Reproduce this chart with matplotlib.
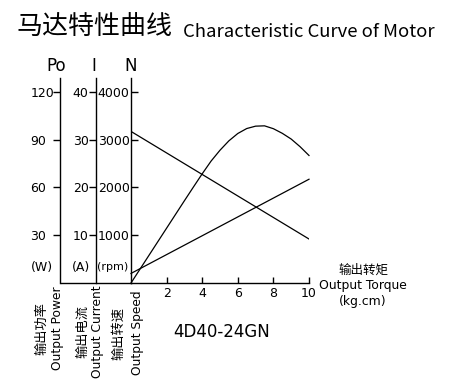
import matplotlib
matplotlib.use("Agg")
import matplotlib.pyplot as plt
from matplotlib.lines import Line2D

plt.rcParams['font.family'] = 'DejaVu Sans'
CJK = ['Noto Sans CJK SC', 'DejaVu Sans']

# data
torque = [0, 10]
speed = [3170, 920]          # rpm
current = [2.0, 21.7]        # A
torque_p = [0, 1, 2, 3, 3.5, 4, 4.5, 5, 5.5, 6, 6.5, 7, 7.5, 8, 8.5, 9, 9.5, 10]
power = [0, 17.2, 34.4, 51.6, 60.1, 68.5, 76.5, 83.3, 89.2, 93.8, 96.9, 98.4, 98.6,
         96.8, 93.9, 90.3, 85.5, 80]

x_ticks = [2, 4, 6, 8, 10]
n_ticks = [1000, 2000, 3000, 4000]
i_ticks = [10, 20, 30, 40]
p_ticks = [30, 60, 90, 120]

W, H = 450, 391
fig = plt.figure(figsize=(4.5, 3.91), dpi=100)
ax = fig.add_axes([131 / W, 1 - 283 / H, 178 / W, 205 / H])

ytop = 4287
ax.set_xlim(0, 10)
ax.set_ylim(0, ytop)

lw = 1.0
for s in ['top', 'right']:
    ax.spines[s].set_visible(False)
ax.spines['left'].set_linewidth(lw)
ax.spines['bottom'].set_linewidth(lw)

ax.set_xticks(x_ticks)
ax.set_yticks(n_ticks)
ax.tick_params(axis='x', direction='in', length=4.5, width=lw, labelsize=9, pad=3)
ax.tick_params(axis='y', direction='in', length=5, width=lw, labelsize=9, pad=1)

ax.plot(torque, speed, color='black', lw=0.9)

ax_i = ax.twinx()
ax_p = ax.twinx()
for a, off, top, ticks, pad in [(ax_i, 25.5, ytop / 100, i_ticks, 11.5),
                                 (ax_p, 51, ytop / 100 * 3, p_ticks, 16.5)]:
    a.set_ylim(0, top)
    for s in ['top', 'right', 'bottom']:
        a.spines[s].set_visible(False)
    a.spines['left'].set_position(('outward', off))
    a.spines['left'].set_linewidth(lw)
    a.yaxis.tick_left()
    a.set_yticks(ticks)
    a.tick_params(axis='y', direction='out', length=5, width=lw, labelsize=9, pad=pad)
    for t in a.get_yticklabels():
        t.set_horizontalalignment('left')

ax_i.plot(torque, current, color='black', lw=0.9, clip_on=False)
ax_p.plot(torque_p, power, color='black', lw=0.9, clip_on=False)

# bottom line joining the three vertical axes
fig.add_artist(Line2D([60.5 / W, 131 / W], [1 - 283 / H] * 2, color='black', lw=lw))

# axis names and units
for x, s in [(56.5, 'Po'), (94, 'I'), (131, 'N')]:
    fig.text(x / W, 1 - 66 / H, s, fontsize=12, ha='center', va='center')
for x, s, fs in [(41.5, '(W)', 9), (81, '(A)', 9), (112.7, '(rpm)', 8)]:
    fig.text(x / W, 1 - 267 / H, s, fontsize=fs, ha='center', va='center')

# vertical captions under the axes
for xc, xe, yc, zh, en in [(42, 57, 328.5, '输出功率', 'Output Power'),
                           (83, 97.5, 331.5, '输出电流', 'Output Current'),
                           (119, 137, 333, '输出转速', 'Output Speed')]:
    fig.text(xc / W, 1 - yc / H, zh, fontsize=9.5, rotation=90, ha='center',
             va='center', family=CJK)
    fig.text(xe / W, 1 - yc / H, en, fontsize=8.8, rotation=90, ha='center',
             va='center')

fig.text(363 / W, 1 - 270 / H, '输出转矩', fontsize=9, ha='center', va='center',
         family=CJK)
fig.text(363 / W, 1 - 286 / H, 'Output Torque', fontsize=8.9, ha='center', va='center')
fig.text(363 / W, 1 - 302 / H, '(kg.cm)', fontsize=8.9, ha='center', va='center')

fig.text(222 / W, 1 - 332 / H, '4D40-24GN', fontsize=12, ha='center', va='center')

fig.text(17 / W, 1 - 27 / H, '马达特性曲线', fontsize=18.7, ha='left', va='center',
         family=CJK)
fig.text(183 / W, 1 - 37 / H, 'Characteristic Curve of Motor', fontsize=13.3,
         ha='left', va='baseline', family=CJK)

fig.savefig('out.png', dpi=100)
